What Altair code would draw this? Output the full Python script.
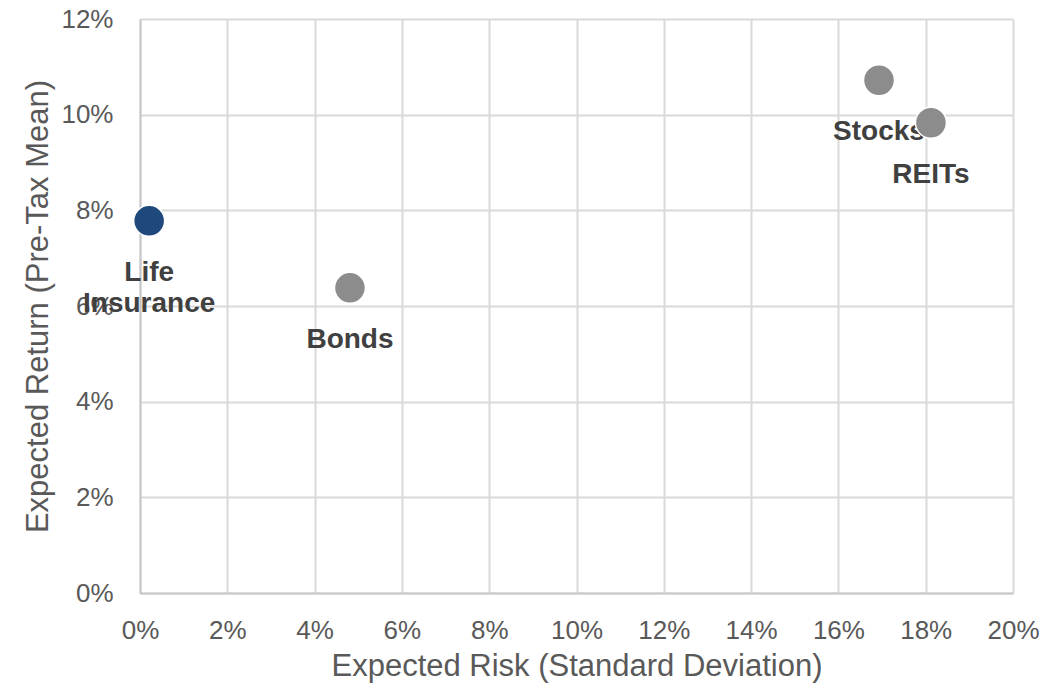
import altair as alt
import pandas as pd

names = ["Life\nInsurance", "Bonds", "Stocks", "REITs"]
risk = [0.0021, 0.0481, 0.1693, 0.1812]
ret = [0.0778, 0.0638, 0.1072, 0.0983]
colors = ["#1F497D", "#8C8C8C", "#8C8C8C", "#8C8C8C"]

df = pd.DataFrame({"name": names, "risk": risk, "ret": ret, "color": colors})

FONT = "Liberation Sans"
W, H = 873, 574

x = alt.X("risk:Q", scale=alt.Scale(domain=[0, 0.2], nice=False, zero=True),
          axis=alt.Axis(title="Expected Risk (Standard Deviation)", format=".0%",
                        values=[i / 100 for i in range(0, 21, 2)],
                        labelFlush=False, labelOverlap=False,
                        titleX=W / 2, titleY=73, titleBaseline="middle", titleAlign="center"))
y = alt.Y("ret:Q", scale=alt.Scale(domain=[0, 0.12], nice=False, zero=True),
          axis=alt.Axis(title="Expected Return (Pre-Tax Mean)", format=".0%",
                        values=[i / 100 for i in range(0, 13, 2)],
                        labelFlush=False, labelOverlap=False,
                        titleX=-102, titleY=H / 2, titleAngle=270,
                        titleBaseline="middle", titleAlign="center"))

labels = alt.Chart(df).mark_text(
    font=FONT, fontSize=28, fontWeight="bold", color="#404040",
    dy=52, baseline="middle", align="center", lineBreak="\n", lineHeight=31
).encode(x=x, y=y, text="name:N")

points = alt.Chart(df).mark_circle(size=960, opacity=1, stroke="white", strokeWidth=1.5).encode(
    x=x, y=y, color=alt.Color("color:N", scale=None)
)

chart = alt.layer(labels, points).properties(
    width=W, height=H,
    autosize=alt.AutoSizeParams(type="none"),
    padding={"left": 140, "top": 19, "right": 33, "bottom": 95},
).configure_view(stroke=None).configure_axis(
    grid=True, gridColor="#D9D9D9", gridWidth=2,
    domainColor="#C8C8C8", domainWidth=2, ticks=False,
    labelFont=FONT, labelFontSize=26, labelColor="#595959", labelPadding=24,
    titleFont=FONT, titleFontSize=31, titleColor="#595959", titleFontWeight="normal",
).configure_axisY(labelPadding=27)

chart.save("out.html", embed_options={"renderer": "svg", "actions": False})
